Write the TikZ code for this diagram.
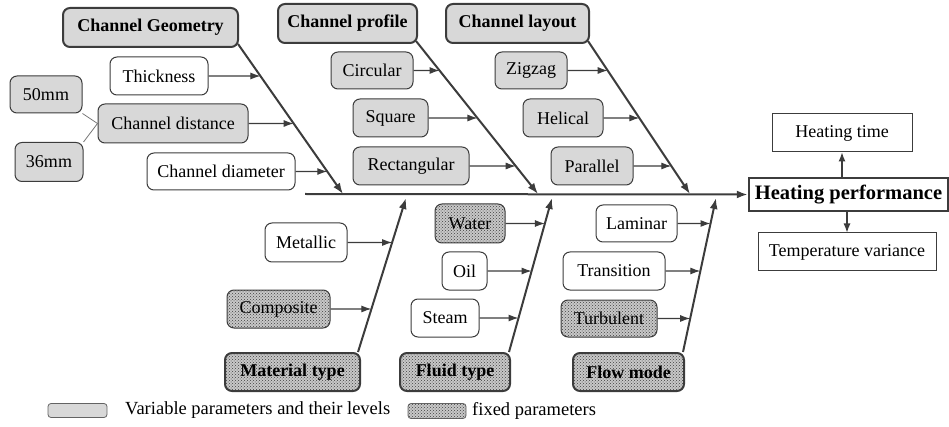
\documentclass[tikz,border=0pt]{standalone}
\usepackage{fontspec}
\setmainfont{Liberation Serif}
\usetikzlibrary{arrows.meta,patterns,backgrounds}
\definecolor{edge}{HTML}{3C3C3C}
\definecolor{varfill}{HTML}{D8D8D8}
\definecolor{dotbase}{HTML}{C8C8C8}
\newcommand\labfont{\fontsize{18}{21}\selectfont}
\newcommand\legfont{\fontsize{18.5}{21}\selectfont}
\newcommand\hpfont{\fontsize{20.5}{24}\selectfont\bfseries}
\tikzset{
  box/.style={draw=edge, line width=1pt, rounded corners=7pt, minimum height=38pt,
    inner sep=0pt, font=\labfont, text=black},
  plainbox/.style={box, fill=white},
  varbox/.style={box, fill=varfill},
  fixbox/.style={box, fill=dotbase, postaction={pattern=crosshatch dots, pattern color=black!75}},
  headvar/.style={varbox, line width=2pt, minimum height=39pt, font=\labfont\bfseries},
  headfix/.style={fixbox, line width=2pt, font=\labfont\bfseries},
  result/.style={draw=edge, line width=1pt, fill=white, minimum height=38pt, inner sep=0pt, font=\labfont},
  arr/.style={draw=edge, line width=1.1pt, -{Latex[length=10pt,width=7pt]}},
  bone/.style={draw=edge, line width=2pt, -{Latex[length=11pt,width=8pt]}},
  link/.style={draw=edge!70, line width=0.8pt},
  legbox/.style={draw=edge!80, line width=0.8pt, rounded corners=3pt, inner sep=0pt},
  legtext/.style={anchor=west, inner sep=0pt, font=\legfont},
}
\begin{document}
\begin{tikzpicture}[x=1pt,y=-1pt]
\useasboundingbox (0,0) rectangle (949,427);

% ---- channel geometry branch
\node[headvar, minimum width=175pt] (geo) at (150.5,27.5) {Channel Geometry};
\node[plainbox, minimum width=98pt] (thk) at (159,76) {Thickness};
\node[varbox, minimum width=72pt, minimum height=37pt] (m50) at (46,94.5) {50mm};
\node[varbox, minimum width=150pt, minimum height=39pt] (dist) at (173,123.5) {Channel distance};
\node[varbox, minimum width=68pt, minimum height=39pt] (m36) at (49,162) {36mm};
\node[plainbox, minimum width=148pt, minimum height=37pt] (dia) at (221,171.5) {Channel diameter};

% ---- channel profile branch
\node[headvar, minimum width=139pt] (prof) at (347.5,23.5) {Channel profile};
\node[varbox, minimum width=82pt, minimum height=37pt] (circ) at (372,70.5) {Circular};
\node[varbox, minimum width=75pt] (squ) at (390.5,118) {Square};
\node[varbox, minimum width=116pt] (rect) at (411,166) {Rectangular};

% ---- channel layout branch
\node[headvar, minimum width=143pt] (lay) at (517.5,23.5) {Channel layout};
\node[varbox, minimum width=72pt, minimum height=37pt] (zig) at (531,70.5) {Zigzag};
\node[varbox, minimum width=80pt] (hel) at (563,118) {Helical};
\node[varbox, minimum width=82pt] (par) at (592,166) {Parallel};

% ---- material type branch
\node[headfix, minimum width=135pt] (mat) at (292.5,372) {Material type};
\node[plainbox, minimum width=82pt, minimum height=39pt] (met) at (306,242.5) {Metallic};
\node[fixbox, minimum width=103pt] (comp) at (278.5,309) {Composite};

% ---- fluid type branch
\node[headfix, minimum width=110pt] (flu) at (455,372) {Fluid type};
\node[fixbox, minimum width=70pt, minimum height=39pt] (wat) at (470,223.5) {Water};
\node[plainbox, minimum width=45pt] (oil) at (464.5,271) {Oil};
\node[plainbox, minimum width=68pt] (stm) at (445,318) {Steam};

% ---- flow mode branch
\node[headfix, minimum width=111pt] (flow) at (628.5,372) {Flow mode};
\node[plainbox, minimum width=81pt, minimum height=37pt] (lam) at (636.5,223.5) {Laminar};
\node[plainbox, minimum width=102pt] (tra) at (614,271) {Transition};
\node[fixbox, minimum width=96pt, minimum height=37pt] (tur) at (609,318.5) {Turbulent};

% ---- outcome
\node[draw=edge, line width=2.5pt, fill=white, minimum width=199pt, minimum height=33pt,
      inner sep=0pt, font=\hpfont] (hp) at (848.5,194.5) {Heating performance};
\node[result, minimum width=140pt] (ht) at (842,133) {Heating time};
\node[result, minimum width=178pt] (tv) at (847,252) {Temperature variance};

% ---- spine and bone end points
\coordinate (sp0) at (305,194);
\coordinate (gEnd) at (343,194);
\coordinate (pEnd) at (538,194);
\coordinate (lEnd) at (690,194);
\coordinate (mEnd) at (406,198);
\coordinate (fEnd) at (552,198);
\coordinate (wEnd) at (716,198);

\begin{scope}[on background layer]
  \draw[bone] (sp0) -- (hp.west);
  \draw[bone] ([xshift=-1pt,yshift=4pt]geo.south east) coordinate (g0) -- (gEnd);
  \draw[bone] ([xshift=-2pt,yshift=3pt]prof.south east) coordinate (p0) -- (pEnd);
  \draw[bone] ([xshift=-2pt,yshift=3pt]lay.south east) coordinate (l0) -- (lEnd);
  \draw[bone] ([xshift=-3pt,yshift=0pt]mat.north east) coordinate (m0) -- (mEnd);
  \draw[bone] ([xshift=-2pt,yshift=0pt]flu.north east) coordinate (f0) -- (fEnd);
  \draw[bone] ([xshift=-2pt,yshift=0pt]flow.north east) coordinate (w0) -- (wEnd);
  \draw[link] (m50.south east) -- (dist.west);
  \draw[link] (m36.north east) -- (dist.west);
\end{scope}

% ---- cause arrows onto the bones
\draw[arr] (thk.east) -- (intersection of g0--gEnd and thk.west--thk.east);
\draw[arr] (dist.east) -- (intersection of g0--gEnd and dist.west--dist.east);
\draw[arr] (dia.east) -- (intersection of g0--gEnd and dia.west--dia.east);
\draw[arr] (circ.east) -- (intersection of p0--pEnd and circ.west--circ.east);
\draw[arr] (squ.east) -- (intersection of p0--pEnd and squ.west--squ.east);
\draw[arr] (rect.east) -- (intersection of p0--pEnd and rect.west--rect.east);
\draw[arr] (zig.east) -- (intersection of l0--lEnd and zig.west--zig.east);
\draw[arr] (hel.east) -- (intersection of l0--lEnd and hel.west--hel.east);
\draw[arr] (par.east) -- (intersection of l0--lEnd and par.west--par.east);
\draw[arr] (met.east) -- (intersection of m0--mEnd and met.west--met.east);
\draw[arr] (comp.east) -- (intersection of m0--mEnd and comp.west--comp.east);
\draw[arr] (wat.east) -- (intersection of f0--fEnd and wat.west--wat.east);
\draw[arr] (oil.east) -- (intersection of f0--fEnd and oil.west--oil.east);
\draw[arr] (stm.east) -- (intersection of f0--fEnd and stm.west--stm.east);
\draw[arr] (lam.east) -- (intersection of w0--wEnd and lam.west--lam.east);
\draw[arr] (tra.east) -- (intersection of w0--wEnd and tra.west--tra.east);
\draw[arr] (tur.east) -- (intersection of w0--wEnd and tur.west--tur.east);

% ---- outcome arrows
\draw[arr, -{Latex[length=9pt,width=7pt]}] (hp.north -| ht.south) -- (ht.south);
\draw[arr, -{Latex[length=9pt,width=7pt]}] (hp.south -| tv.north) -- (tv.north);

% ---- legend
\node[legbox, fill=varfill, minimum width=59pt, minimum height=14pt] (lv) at (77.5,410.5) {};
\node[legtext] (lvt) at (125,410.5) {Variable parameters and their levels};
\node[legbox, fill=dotbase, postaction={pattern=crosshatch dots, pattern color=black!75},
      minimum width=58pt, minimum height=15pt] (lf) at (437,411) {};
\node[legtext] (lft) at (472,410.5) {fixed parameters};
\end{tikzpicture}
\end{document}
